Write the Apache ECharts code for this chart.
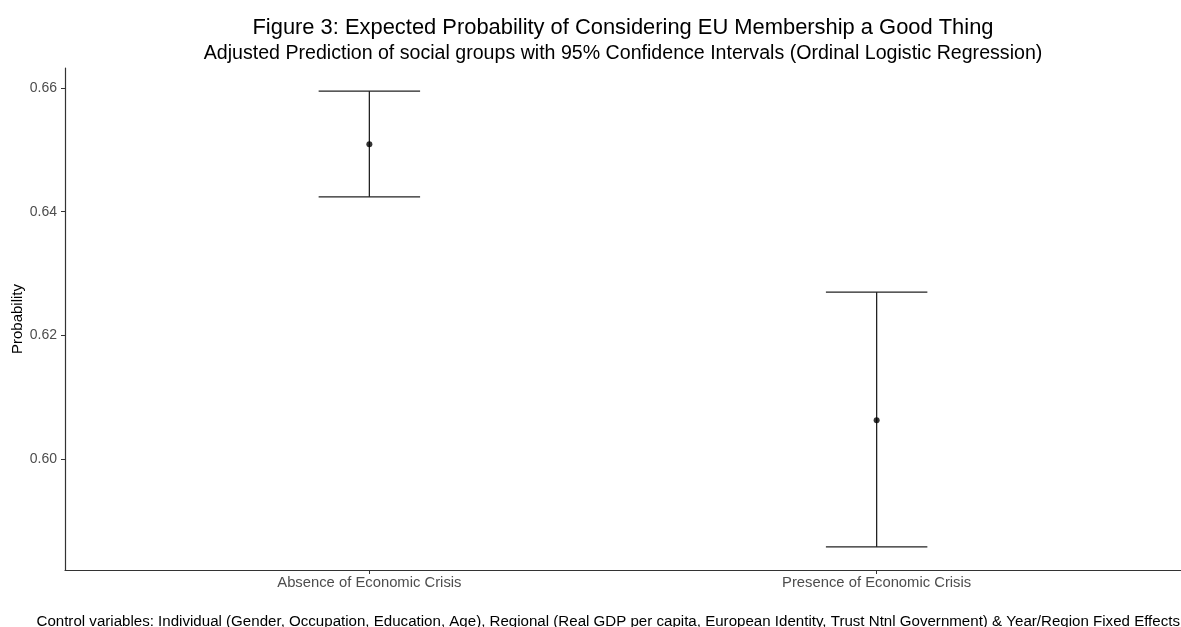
<!DOCTYPE html>
<html>
<head>
<meta charset="utf-8">
<script src="https://cdn.jsdelivr.net/npm/echarts@6/dist/echarts.min.js"></script>
<style>
html,body{margin:0;padding:0;background:#fff;}
#chart{width:1181px;height:627px;}
</style>
</head>
<body>
<div id="chart"></div>
<script>
// Data
const categories = ['Absence of Economic Crisis', 'Presence of Economic Crisis'];
const predicted = [0.6509, 0.6063];
const lowerCI = [0.6424, 0.5858];
const upperCI = [0.6595, 0.6270];
const yTicks = [0.60, 0.62, 0.64, 0.66];

const positions = categories.map((c, i) => i + 1);
const errData = positions.map((p, i) => [p, lowerCI[i], upperCI[i]]);
const pointData = positions.map((p, i) => [p, predicted[i]]);

const chart = echarts.init(document.getElementById('chart'));
const FONT = 'Liberation Sans, Arial, sans-serif';
const CAP_HALF = 0.1;

chart.setOption({
  animation: false,
  backgroundColor: '#ffffff',
  title: [
    {
      text: 'Figure 3: Expected Probability of Considering EU Membership a Good Thing',
      left: 618, top: 12, textAlign: 'center',
      textStyle: {fontFamily: FONT, fontSize: 21.9, fontWeight: 'normal', color: '#000'}
    },
    {
      text: 'Adjusted Prediction of social groups with 95% Confidence Intervals (Ordinal Logistic Regression)',
      left: 618, top: 39, textAlign: 'center',
      textStyle: {fontFamily: FONT, fontSize: 19.6, fontWeight: 'normal', color: '#000'}
    },
    {
      text: 'Control variables: Individual (Gender, Occupation, Education, Age), Regional (Real GDP per capita, European Identity, Trust Ntnl Government) & Year/Region Fixed Effects',
      right: -4, top: 609,
      textStyle: {fontFamily: FONT, fontSize: 15.1, fontWeight: 'normal', color: '#000'}
    }
  ],
  grid: {left: 65, right: 0, top: 68, bottom: 57, containLabel: false, outerBoundsMode: 'none'},
  xAxis: {
    type: 'value',
    min: 0.4, max: 2.6,
    splitLine: {show: false},
    axisLine: {show: true, onZero: false, lineStyle: {color: '#333', width: 1.2}},
    axisTick: {show: true, customValues: positions, length: 4, lineStyle: {color: '#333'}},
    axisLabel: {
      show: true, customValues: positions, margin: 5,
      fontFamily: FONT, fontSize: 14.8, color: '#4d4d4d',
      formatter: v => categories[Math.round(v) - 1] || ''
    }
  },
  yAxis: {
    type: 'value',
    min: 0.58207, max: 0.66323,
    name: 'Probability',
    nameLocation: 'middle',
    nameGap: 40,
    nameRotate: 90,
    nameMoveOverlap: false,
    nameTextStyle: {fontFamily: FONT, fontSize: 15, color: '#000'},
    splitLine: {show: false},
    axisLine: {show: true, onZero: false, lineStyle: {color: '#333', width: 1.2}},
    axisTick: {show: true, customValues: yTicks, length: 4, lineStyle: {color: '#333'}},
    axisLabel: {
      show: true, customValues: yTicks, margin: 8,
      fontFamily: FONT, fontSize: 14, color: '#4d4d4d',
      formatter: v => v.toFixed(2)
    }
  },
  series: [
    {
      type: 'custom',
      data: errData,
      renderItem: function (params, api) {
        const x = api.value(0);
        const lo = api.coord([x, api.value(1)]);
        const hi = api.coord([x, api.value(2)]);
        const l = api.coord([x - CAP_HALF, api.value(1)])[0];
        const r = api.coord([x + CAP_HALF, api.value(1)])[0];
        const style = {stroke: '#222', lineWidth: 1.3};
        return {
          type: 'group',
          children: [
            {type: 'line', shape: {x1: lo[0], y1: lo[1], x2: hi[0], y2: hi[1]}, style: style},
            {type: 'line', shape: {x1: l, y1: lo[1], x2: r, y2: lo[1]}, style: style},
            {type: 'line', shape: {x1: l, y1: hi[1], x2: r, y2: hi[1]}, style: style}
          ]
        };
      },
      z: 2
    },
    {
      type: 'scatter',
      data: pointData,
      symbol: 'circle',
      symbolSize: 6,
      itemStyle: {color: '#000'},
      z: 3
    }
  ]
});
</script>
</body>
</html>
